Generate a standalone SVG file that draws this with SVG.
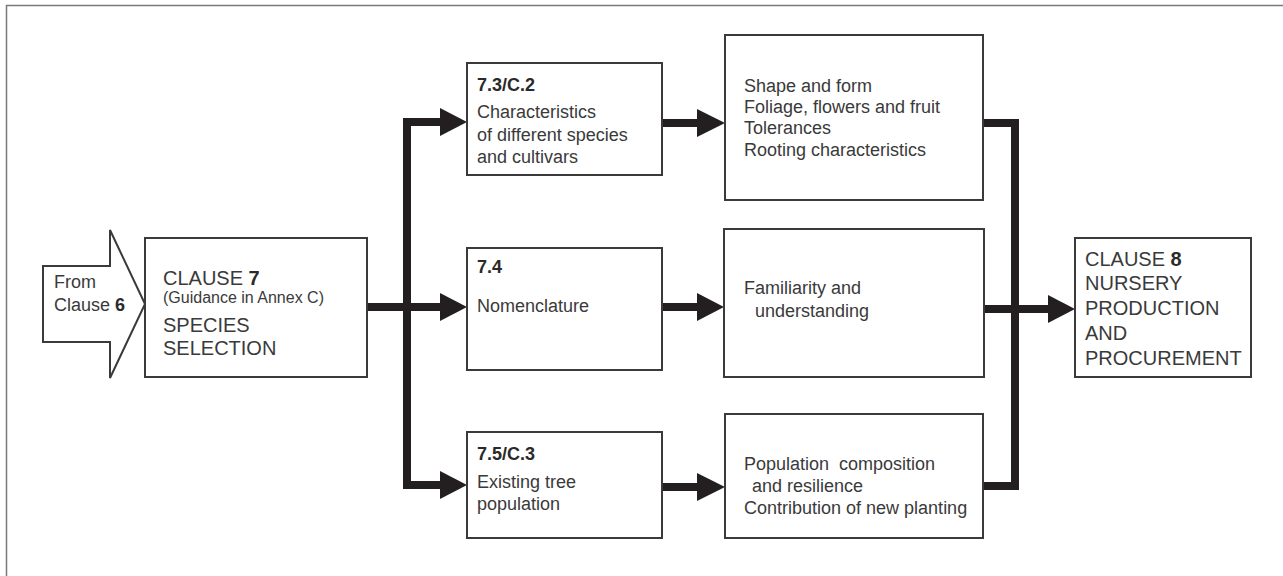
<svg xmlns="http://www.w3.org/2000/svg" width="1283" height="576" viewBox="0 0 1283 576">
<style>
.frame{fill:none;stroke:#7a7a7a;stroke-width:1.5}
.box{fill:#fff;stroke:#3a3a3a;stroke-width:2}
.t{font-family:"Liberation Sans",Arial,sans-serif;font-size:18px;fill:#3a3a3a}
.b{font-weight:bold;fill:#2a2a2a}
.big{font-size:20px}
.sm{font-size:16px}
.conn{fill:none;stroke:#231f20;stroke-width:8;stroke-linejoin:miter}
.head{fill:#231f20}
</style>
<rect width="1283" height="576" fill="#fff"/>
<path class="frame" d="M1283,5.5 H6.5 V576"/>

<g id="connectors">
  <path class="conn" d="M367,307 H442"/>
  <path class="conn" d="M441,122 H407 V485 H441"/>
  <path class="conn" d="M662,123 H699"/>
  <path class="conn" d="M662,307 H699"/>
  <path class="conn" d="M662,487 H699"/>
  <path class="conn" d="M983,123 H1015 V486 H983"/>
  <path class="conn" d="M984,309 H1050"/>
  <polygon class="head" points="440,108 467,122 440,136"/>
  <polygon class="head" points="440,293 467,307 440,321"/>
  <polygon class="head" points="440,471 467,485 440,499"/>
  <polygon class="head" points="697,109 725,123 697,137"/>
  <polygon class="head" points="697,293 724,307 697,321"/>
  <polygon class="head" points="697,473 725,487 697,501"/>
  <polygon class="head" points="1048,295 1075,309 1048,323"/>
</g>

<g id="from-clause-6">
  <polygon class="box" points="43,266 110,266 110,230 145,304 110,378 110,342 43,342"/>
  <text class="t" x="54" y="288">From</text>
  <text class="t" x="54" y="311">Clause <tspan class="b">6</tspan></text>
</g>

<g id="clause-7">
  <rect class="box" x="145" y="238" width="222" height="139"/>
  <text class="t big" x="163" y="285">CLAUSE <tspan class="b">7</tspan></text>
  <text class="t sm" x="163" y="303">(Guidance in Annex C)</text>
  <text class="t big" x="163" y="332">SPECIES</text>
  <text class="t big" x="163" y="355">SELECTION</text>
</g>

<g id="n73">
  <rect class="box" x="467" y="63" width="195" height="112"/>
  <text class="t b" x="477" y="91">7.3/C.2</text>
  <text class="t" x="477" y="118">Characteristics</text>
  <text class="t" x="477" y="141">of different species</text>
  <text class="t" x="477" y="163">and cultivars</text>
</g>

<g id="n74">
  <rect class="box" x="467" y="248" width="195" height="122"/>
  <text class="t b" x="477" y="273">7.4</text>
  <text class="t" x="477" y="312">Nomenclature</text>
</g>

<g id="n75">
  <rect class="box" x="467" y="432" width="195" height="106"/>
  <text class="t b" x="477" y="460">7.5/C.3</text>
  <text class="t" x="477" y="488">Existing tree</text>
  <text class="t" x="477" y="510">population</text>
</g>

<g id="shape">
  <rect class="box" x="725" y="35" width="258" height="165"/>
  <text class="t" x="744" y="92">Shape and form</text>
  <text class="t" x="744" y="113">Foliage, flowers and fruit</text>
  <text class="t" x="744" y="134">Tolerances</text>
  <text class="t" x="744" y="156">Rooting characteristics</text>
</g>

<g id="familiarity">
  <rect class="box" x="724" y="229" width="260" height="148"/>
  <text class="t" x="744" y="294">Familiarity and</text>
  <text class="t" x="755" y="317">understanding</text>
</g>

<g id="population">
  <rect class="box" x="725" y="414" width="258" height="124"/>
  <text class="t" x="744" y="470">Population&#160; composition</text>
  <text class="t" x="752" y="492">and resilience</text>
  <text class="t" x="744" y="514">Contribution of new planting</text>
</g>

<g id="clause-8">
  <rect class="box" x="1075" y="238" width="176" height="139"/>
  <text class="t big" x="1085" y="266">CLAUSE <tspan class="b">8</tspan></text>
  <text class="t big" x="1085" y="290">NURSERY</text>
  <text class="t big" x="1085" y="315">PRODUCTION</text>
  <text class="t big" x="1085" y="340">AND</text>
  <text class="t big" x="1085" y="365">PROCUREMENT</text>
</g>
</svg>
